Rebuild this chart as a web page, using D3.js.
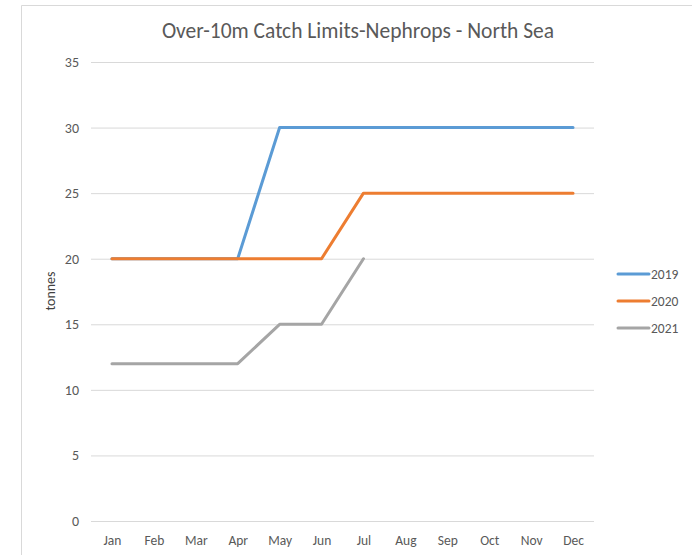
<!DOCTYPE html>
<html>
<head>
<meta charset="utf-8">
<title>Catch Limits</title>
<script src="https://cdn.jsdelivr.net/npm/d3@7"></script>
<style>
  body { margin: 0; background: #fff; }
  text { font-family: Carlito, "Liberation Sans", Arial, sans-serif; }
</style>
</head>
<body>
<script>
// data
var months = ['Jan', 'Feb', 'Mar', 'Apr', 'May', 'Jun', 'Jul', 'Aug', 'Sep', 'Oct', 'Nov', 'Dec'];
var years = ['2019', '2020', '2021'];
var limits2019 = [20, 20, 20, 20, 30, 30, 30, 30, 30, 30, 30, 30];
var limits2020 = [20, 20, 20, 20, 20, 20, 25, 25, 25, 25, 25, 25];
var limits2021 = [12, 12, 12, 12, 15, 15, 20, null, null, null, null, null];
var yTicks = [0, 5, 10, 15, 20, 25, 30, 35];
var colors = ['#5b9bd5', '#ed7d31', '#a5a5a5'];

var width = 692, height = 555;
var plot = { left: 91, right: 594, top: 62, bottom: 521 };

var svg = d3.select('body').append('svg')
  .attr('width', width)
  .attr('height', height);

// chart frame (only left and top edge are in view)
svg.append('path')
  .attr('d', 'M21.5,' + height + 'V5.5H' + width)
  .attr('fill', 'none')
  .attr('stroke', '#d9d9d9')
  .attr('stroke-width', 1);

var x = d3.scalePoint()
  .domain(months)
  .range([plot.left, plot.right])
  .padding(0.5);

var y = d3.scaleLinear()
  .domain([0, 35])
  .range([plot.bottom, plot.top]);

// gridlines + y labels
var yAxis = svg.append('g')
  .attr('transform', 'translate(' + plot.left + ',0)')
  .call(d3.axisLeft(y).tickValues(yTicks).tickSize(-(plot.right - plot.left)).tickPadding(12));
yAxis.select('.domain').remove();
yAxis.selectAll('line').attr('stroke', '#d9d9d9').attr('stroke-width', 1);
yAxis.selectAll('text').attr('fill', '#595959').style('font-size', '14px');

// x labels
var xAxis = svg.append('g')
  .attr('transform', 'translate(0,' + plot.bottom + ')')
  .call(d3.axisBottom(x).tickSize(0).tickPadding(14));
xAxis.select('.domain').remove();
xAxis.selectAll('text').attr('fill', '#595959').style('font-size', '13.5px');

// title
svg.append('text')
  .attr('x', 358)
  .attr('y', 38)
  .attr('text-anchor', 'middle')
  .attr('fill', '#595959')
  .style('font-size', '21.5px')
  .text('Over-10m Catch Limits-Nephrops - North Sea');

// y axis title
svg.append('text')
  .attr('transform', 'translate(55,291) rotate(-90)')
  .attr('text-anchor', 'middle')
  .attr('fill', '#404040')
  .style('font-size', '14px')
  .text('tonnes');

// lines
var series = [limits2019, limits2020, limits2021];
var line = d3.line()
  .defined(function(d) { return d != null; })
  .x(function(d, i) { return x(months[i]); })
  .y(function(d) { return y(d); });

svg.selectAll('path.series')
  .data(series)
  .enter()
  .append('path')
  .attr('class', 'series')
  .attr('d', line)
  .attr('fill', 'none')
  .attr('stroke', function(d, i) { return colors[i]; })
  .attr('stroke-width', 3)
  .attr('stroke-linejoin', 'round')
  .attr('stroke-linecap', 'round');

// legend
var legend = svg.selectAll('g.legend')
  .data(years)
  .enter()
  .append('g')
  .attr('class', 'legend')
  .attr('transform', function(d, i) { return 'translate(618,' + (274 + i * 27) + ')'; });

legend.append('line')
  .attr('x1', 0).attr('x2', 31)
  .attr('stroke', function(d, i) { return colors[i]; })
  .attr('stroke-width', 3)
  .attr('stroke-linecap', 'round');

legend.append('text')
  .attr('x', 33)
  .attr('dy', '0.35em')
  .attr('fill', '#595959')
  .style('font-size', '13.5px')
  .text(function(d) { return d; });
</script>
</body>
</html>
